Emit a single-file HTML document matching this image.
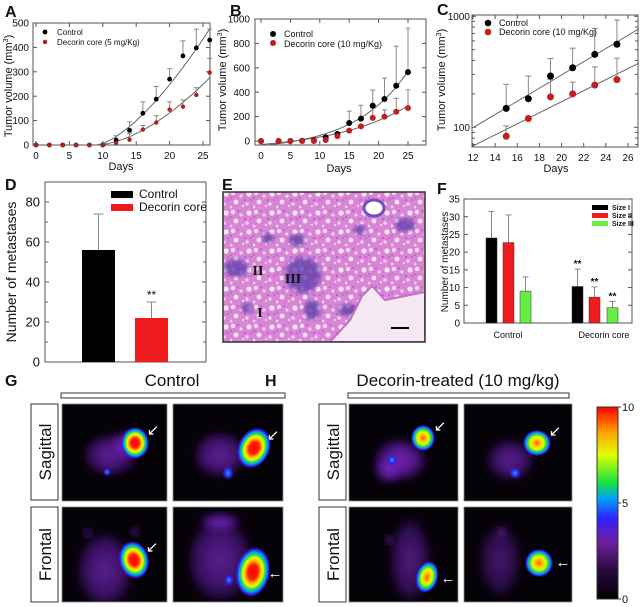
<!DOCTYPE html>
<html><head><meta charset="utf-8"><style>
html,body{margin:0;padding:0;background:#fff;}
svg{display:block;font-family:"Liberation Sans",Arial,sans-serif;}
</style></head><body>
<svg id="fig" width="640" height="607" viewBox="0 0 640 607" xmlns="http://www.w3.org/2000/svg">
<defs>
<radialGradient id="hotG"><stop offset="0" stop-color="#ff0000"/><stop offset="0.3" stop-color="#ff2000"/><stop offset="0.45" stop-color="#ffb000"/><stop offset="0.58" stop-color="#e8ff00"/><stop offset="0.7" stop-color="#20e040"/><stop offset="0.8" stop-color="#00a0ff"/><stop offset="0.9" stop-color="#3020ff"/><stop offset="1" stop-color="#6a20c0" stop-opacity="0"/></radialGradient>
<radialGradient id="hotH"><stop offset="0" stop-color="#ff6000"/><stop offset="0.25" stop-color="#ffc000"/><stop offset="0.5" stop-color="#e0ff00"/><stop offset="0.65" stop-color="#30e030"/><stop offset="0.78" stop-color="#00a0ff"/><stop offset="0.9" stop-color="#3020ff"/><stop offset="1" stop-color="#6a20c0" stop-opacity="0"/></radialGradient>
<radialGradient id="blueSpot"><stop offset="0" stop-color="#30a0ff"/><stop offset="0.5" stop-color="#2030ff"/><stop offset="1" stop-color="#5020c0" stop-opacity="0"/></radialGradient>
<radialGradient id="body"><stop offset="0" stop-color="#8a30d8" stop-opacity="0.95"/><stop offset="0.7" stop-color="#6a1cb8" stop-opacity="0.7"/><stop offset="1" stop-color="#3a0a70" stop-opacity="0"/></radialGradient>
<linearGradient id="cbar" x1="0" y1="1" x2="0" y2="0"><stop offset="0" stop-color="#000"/><stop offset="0.15" stop-color="#2a0a40"/><stop offset="0.3" stop-color="#7020a0"/><stop offset="0.42" stop-color="#3020ff"/><stop offset="0.52" stop-color="#00a0ff"/><stop offset="0.6" stop-color="#10e040"/><stop offset="0.75" stop-color="#e0ff00"/><stop offset="0.87" stop-color="#ffa000"/><stop offset="1" stop-color="#ff0000"/></linearGradient>
<filter id="blur2"><feGaussianBlur stdDeviation="2"/></filter>
<filter id="blur4"><feGaussianBlur stdDeviation="4"/></filter>
<pattern id="alveoli" width="23" height="19" patternUnits="userSpaceOnUse">
<rect width="23" height="19" fill="#d985d6"/>
<circle cx="3" cy="3" r="2.2" fill="#f3dcf1"/><circle cx="11" cy="6" r="1.6" fill="#f0d4ee"/><circle cx="6" cy="12" r="2.4" fill="#f5e2f3"/><circle cx="17" cy="14" r="1.8" fill="#efd0ec"/>
<circle cx="19" cy="4" r="2.6" fill="#f6e6f4"/><circle cx="13" cy="16" r="1.2" fill="#eccbe9"/><circle cx="1" cy="17" r="1.4" fill="#efd2ec"/>
<circle cx="8" cy="2" r="0.8" fill="#9a40b8"/><circle cx="1" cy="8" r="0.8" fill="#a048c0"/><circle cx="15" cy="10" r="0.8" fill="#9040b0"/><circle cx="21" cy="10" r="0.7" fill="#a048c0"/>
</pattern>
<clipPath id="clipA"><rect x="33" y="23" width="177" height="122"/></clipPath>
<clipPath id="clipB"><rect x="255" y="19" width="171" height="126"/></clipPath>
<clipPath id="clipC"><rect x="472" y="15" width="167" height="132"/></clipPath>
<clipPath id="clipE"><rect x="223" y="192" width="202" height="150"/></clipPath>
</defs>
</svg>
<script>
// ===== data arrays =====
const A_days=[0,2,4,6,8,10,12,14,16,18,20,22,24,26];
const A_ctrl=[0,0,0,0,0,0,20,60,130,188,270,365,398,430];
const A_ctrlErr=[0,0,0,0,0,0,38,95,177,240,313,427,475,475];
const A_dec=[0,0,0,0,0,0,8,22,63,92,145,157,205,297];
const A_decErr=[0,0,0,0,0,0,0,48,80,120,177,185,235,355];
const A_xticks=[0,5,10,15,20,25];
const A_yticks=[0,100,200,300,400,500];

const B_days=[0,3,5,7,9,11,13,15,17,19,21,23,25];
const B_ctrl=[0,0,0,2,5,30,57,148,183,290,344,453,565];
const B_ctrlErr=[0,0,0,0,0,40,70,245,293,417,516,778,925];
const B_dec=[0,0,0,0,0,8,40,85,120,190,200,240,270];
const B_decErr=[0,0,0,0,0,0,0,0,0,270,255,350,420];
const B_xticks=[0,5,10,15,20,25];
const B_yticks=[0,200,400,600,800,1000];

const C_days=[15,17,19,21,23,25];
const C_ctrl=[148,181,290,344,454,560];
const C_ctrlErr=[244,290,417,516,778,925];
const C_dec=[83,120,188,200,240,269];
const C_decErr=[103,0,270,255,350,420];
const C_xticks=[12,14,16,18,20,22,24,26];
const C_yticks=[100,1000];

const D_groups=["Control","Decorin core"];
const D_vals=[56,22];
const D_err=[74,30];
const D_yticks=[0,20,40,60,80];

const F_groups=["Control","Decorin core"];
const F_sizes=["Size I","Size II","Size III"];
const F_ctrl=[24,22.7,9];
const F_ctrlErr=[31.5,30.5,13];
const F_dec=[10.3,7.3,4.3];
const F_decErr=[15.2,10.2,6.1];
const F_yticks=[0,5,10,15,20,25,30,35];

const CB_ticks=[0,5,10];

// ===== helpers =====
const NS="http://www.w3.org/2000/svg";
const svg=document.getElementById('fig');
function mk(tag,attrs,parent){const e=document.createElementNS(NS,tag);for(const k in attrs)e.setAttribute(k,attrs[k]);(parent||svg).appendChild(e);return e;}
function txt(s,attrs,parent){const e=mk('text',attrs,parent);e.textContent=s;return e;}
function lin(d0,d1,r0,r1){return v=>r0+(v-d0)/(d1-d0)*(r1-r0);}
function grp(name){const g=mk('g',{});return g;}

function frame(g,x0,y0,x1,y1){
  const r=mk('rect',{x:x0,y:y0,width:x1-x0,height:y1-y0,fill:'none',stroke:'#555','stroke-width':1},g);
  
  
}
function yTicks(g,ticks,ys,x0,x1,lx,fs,fmt){
  ticks.forEach(t=>{const y=ys(t);
    const a=mk('line',{x1:x0,y1:y,x2:x0+4,y2:y,stroke:'#555'},g);
    
    
    const b=mk('line',{x1:x1,y1:y,x2:x1-4,y2:y,stroke:'#555'},g);
    
    
    const l=txt(fmt?fmt(t):String(t),{x:lx,y:y+fs*0.36,'font-size':fs,'text-anchor':'end',fill:'#111'},g);
    
    
  });
}
function xTicks(g,ticks,xs,y0,y1,ly,fs){
  ticks.forEach(t=>{const x=xs(t);
    const a=mk('line',{x1:x,y1:y1,x2:x,y2:y1-4,stroke:'#555'},g);
    
    
    const b=mk('line',{x1:x,y1:y0,x2:x,y2:y0+4,stroke:'#555'},g);
    
    
    const l=txt(String(t),{x:x,y:ly,'font-size':fs,'text-anchor':'middle',fill:'#111'},g);
    
    
  });
}
function errBar(g,x,y0,y1,cap){
  if(y1>=y0-0.5)return;
  const l=mk('line',{x1:x,y1:y0,x2:x,y2:y1,stroke:'#888','stroke-width':1},g);
  
  
  const c=mk('line',{x1:x-cap,y1:y1,x2:x+cap,y2:y1,stroke:'#888','stroke-width':1},g);
  
  
}
function dot(g,x,y,r,fill,name){
  const c=mk('circle',{cx:x,cy:y,r:r,fill:fill},g);
  
  
}
function curve(g,pts,clip){
  const p=mk('polyline',{points:pts.map(q=>q[0].toFixed(1)+','+q[1].toFixed(1)).join(' '),fill:'none',stroke:'#666','stroke-width':1,'clip-path':clip},g);
  
  
}
function label(s,x,y,fs,name,extra){
  const t=txt(s,Object.assign({x:x,y:y,'font-size':fs,fill:'#111'},extra||{}));
  
  
  return t;
}
function panelLetter(s,x,y){const t=label(s,x,y,16,'panel-label-'+s.toLowerCase(),{'font-weight':'bold'});}
function ytitle(g,x,y,fs,s,sup){
  const t=mk('text',{x:0,y:0,'font-size':fs,'text-anchor':'middle',fill:'#111',transform:`translate(${x},${y}) rotate(-90)`},g);
  
  
  t.appendChild(document.createTextNode(s));
  if(sup){const ts=mk('tspan',{'font-size':fs*0.65,dy:-fs*0.35},t);ts.textContent=sup;const t2=mk('tspan',{dy:fs*0.35},t);t2.textContent=')';}
}

// ===== Panel A =====
(function(){
  const g=grp('panel-a-chart');
  const xs=lin(0,25,36,203), ys=lin(0,500,145,23);
  frame(g,33,23,210,145);
  yTicks(g,A_yticks,ys,33,210,29,10);
  xTicks(g,A_xticks,xs,23,145,159,10);
  ytitle(g,12,86,11,'Tumor volume (mm','3');
  label('Days',121,170,11,'x-axis-title',{'text-anchor':'middle'});
  function fit(vals,p){let n=0,d=0;A_days.forEach((dd,i)=>{if(dd>9){const gg=Math.pow(dd-9,p);n+=vals[i]*gg;d+=gg*gg;}});const a=n/d;const pts=[];for(let dd=9;dd<=26.3;dd+=0.25)pts.push([xs(dd),ys(a*Math.pow(dd-9,p))]);return pts;}
  curve(g,fit(A_ctrl,1.5),'url(#clipA)');
  curve(g,fit(A_dec,1.7),'url(#clipA)');
  A_days.forEach((d,i)=>{errBar(g,xs(d),ys(A_ctrl[i]),ys(A_ctrlErr[i]),2.5);errBar(g,xs(d),ys(A_dec[i]),ys(A_decErr[i]),2.5);});
  A_days.forEach((d,i)=>{dot(g,xs(d),ys(A_ctrl[i]),2.4,'#000','control-point');});
  A_days.forEach((d,i)=>{dot(g,xs(d),ys(A_dec[i]),2.2,'#b02020','decorin-point');});
  dot(g,45,32,2.4,'#000','legend-control-marker');
  label('Control',57,35,8,'legend-control-label');
  dot(g,45,42,2.2,'#b02020','legend-decorin-marker');
  label('Decorin core (5 mg/Kg)',57,45,8,'legend-decorin-label');
})();
panelLetter('A',5,17);

// ===== Panel B =====
(function(){
  const g=grp('panel-b-chart');
  const xs=lin(0,25,261,408), ys=lin(0,1000,141,19);
  frame(g,255,19,426,145);
  yTicks(g,B_yticks,ys,255,426,250,10);
  xTicks(g,B_xticks,xs,19,145,159,10);
  ytitle(g,226,80,11,'Tumor volume (mm','3');
  label('Days',339,172,11,'x-axis-title',{'text-anchor':'middle'});
  function fit(vals,k){const X=B_days.map(d=>Math.exp(k*d));const n=X.length;const mx=X.reduce((a,b)=>a+b)/n,my=vals.reduce((a,b)=>a+b)/n;let sxy=0,sxx=0;X.forEach((x,i)=>{sxy+=(x-mx)*(vals[i]-my);sxx+=(x-mx)*(x-mx);});const a=sxy/sxx,c=my-a*mx;const pts=[];for(let d=0;d<=25;d+=0.25)pts.push([xs(d),ys(a*Math.exp(k*d)+c)]);return pts;}
  curve(g,fit(B_ctrl,0.11),'url(#clipB)');
  curve(g,fit(B_dec,0.08),'url(#clipB)');
  B_days.forEach((d,i)=>{errBar(g,xs(d),ys(B_ctrl[i]),ys(B_ctrlErr[i]),2.5);errBar(g,xs(d),ys(B_dec[i]),ys(B_decErr[i]),2.5);});
  B_days.forEach((d,i)=>{dot(g,xs(d),ys(B_ctrl[i]),3,'#000','control-point');});
  B_days.forEach((d,i)=>{dot(g,xs(d),ys(B_dec[i]),3,'#c02020','decorin-point');});
  dot(g,273,34,3,'#000','legend-control-marker');
  label('Control',284,37,9,'legend-control-label');
  dot(g,273,43,3,'#c02020','legend-decorin-marker');
  label('Decorin core (10 mg/Kg)',284,47,9,'legend-decorin-label');
})();
panelLetter('B',230,16);

// ===== Panel C =====
(function(){
  const g=grp('panel-c-chart');
  const xs=lin(12,26,473,628), ys=v=>127.3-(Math.log10(v)-2)*111;
  frame(g,472,15,638,147);
  [70,80,90,200,300,400,500,600,700,800,900].forEach(v=>{const y=ys(v);if(y<15||y>147)return;
    const a=mk('line',{x1:472,y1:y,x2:475,y2:y,stroke:'#555'},g);
    
    
    const b=mk('line',{x1:638,y1:y,x2:635,y2:y,stroke:'#555'},g);
    
    });
  yTicks(g,C_yticks,ys,472,638,470,10);
  xTicks(g,C_xticks,xs,15,147,161,10);
  ytitle(g,445,80,11,'Tumor volume (mm','3');
  label('Days',556,172,11,'x-axis-title',{'text-anchor':'middle'});
  function fit(vals){const L=vals.map(v=>Math.log10(v));const n=L.length;const mx=C_days.reduce((a,b)=>a+b)/n,my=L.reduce((a,b)=>a+b)/n;let sxy=0,sxx=0;C_days.forEach((d,i)=>{sxy+=(d-mx)*(L[i]-my);sxx+=(d-mx)*(d-mx);});const b=sxy/sxx,a=my-b*mx;return [[xs(12),ys(Math.pow(10,a+b*12))],[xs(27.5),ys(Math.pow(10,a+b*27.5))]];}
  curve(g,fit(C_ctrl),'url(#clipC)');
  curve(g,fit(C_dec),'url(#clipC)');
  C_days.forEach((d,i)=>{if(C_ctrlErr[i]>C_ctrl[i])errBar(g,xs(d),ys(C_ctrl[i]),ys(C_ctrlErr[i]),3);if(C_decErr[i]>C_dec[i])errBar(g,xs(d),ys(C_dec[i]),ys(C_decErr[i]),3);});
  C_days.forEach((d,i)=>{dot(g,xs(d),ys(C_ctrl[i]),3.5,'#000','control-point');});
  C_days.forEach((d,i)=>{dot(g,xs(d),ys(C_dec[i]),3.5,'#c02020','decorin-point');});
  dot(g,488,23,3.3,'#000','legend-control-marker');
  label('Control',499,26,9,'legend-control-label');
  dot(g,488,32,3.3,'#c02020','legend-decorin-marker');
  label('Decorin core (10 mg/Kg)',499,35,9,'legend-decorin-label');
})();
panelLetter('C',437,15);

// ===== Panel D =====
(function(){
  const g=grp('panel-d-chart');
  const ys=lin(0,80,362,202);
  const bx=[82,135], bw=33, cols=['#000','#ee1c1c'];
  frame(g,45,182,206,362);
  yTicks(g,D_yticks,ys,45,206,40,13);
  [10,30,50,70].forEach(v=>{const y=ys(v);
    const a=mk('line',{x1:45,y1:y,x2:48,y2:y,stroke:'#555'},g);
    
    
    const b=mk('line',{x1:206,y1:y,x2:203,y2:y,stroke:'#555'},g);
    
    });
  ytitle(g,16,272,14,'Number of metastases');
  D_vals.forEach((v,i)=>{
    errBar(g,bx[i]+bw/2,ys(v),ys(D_err[i]),5);
    const r=mk('rect',{x:bx[i],y:ys(v),width:bw,height:ys(0)-ys(v),fill:cols[i]},g);
    
    
  });
  const s=txt('**',{x:bx[1]+bw/2,y:ys(D_err[1])-3,'font-size':12,'text-anchor':'middle',fill:'#111'},g);
  
  
  D_groups.forEach((n,i)=>{
    const r=mk('rect',{x:111,y:191+i*13,width:22,height:7,fill:cols[i]},g);
    
    
    const t=txt(n,{x:139,y:198+i*13,'font-size':12,fill:'#111'},g);
    
    
  });
})();
panelLetter('D',5,190);

// ===== Panel E (histology) =====
(function(){
  const g=grp('histology-image');
  const clip=mk('g',{'clip-path':'url(#clipE)'},g);
  const bg=mk('rect',{x:223,y:192,width:202,height:150,fill:'url(#alveoli)'},clip);
  
  
  [[236,268,12,9],[303,275,18,18],[297,240,8,6],[405,225,10,7],[247,308,6,5],[312,310,8,10],[268,238,6,5],[348,310,10,6],[360,230,6,5]].forEach(b=>{
    const e=mk('ellipse',{cx:b[0],cy:b[1],rx:b[2],ry:b[3],fill:'#5a3aa8',opacity:0.75,filter:'url(#blur2)'},clip);
    
    
  });
  const w=mk('path',{d:'M330 342 L350 320 L362 296 L372 286 L385 300 L425 292 L425 342 Z',fill:'#f5e8f2',stroke:'#c070c0','stroke-width':2},clip);
  
  
  const v=mk('ellipse',{cx:374,cy:208,rx:10,ry:8,fill:'#fff',stroke:'#7050c0','stroke-width':3},clip);
  
  
  const f=mk('rect',{x:223,y:192,width:202,height:150,fill:'none',stroke:'#333','stroke-width':1.5},g);
  
  
  [['II',258,275],['III',293,283],['I',260,317]].forEach(l=>{
    const t=txt(l[0],{x:l[1],y:l[2],'font-size':14,'font-weight':'bold','text-anchor':'middle',fill:'#111','font-family':'"Liberation Serif",serif'},g);
    
    
  });
  const sb=mk('line',{x1:391,y1:328,x2:409,y2:328,stroke:'#000','stroke-width':2},g);
  
  
})();
panelLetter('E',222,190);

// ===== Panel F =====
(function(){
  const g=grp('panel-f-chart');
  const ys=lin(0,35,323,199);
  const cols=['#000','#ee1c1c','#66ee44'];
  const cx=[486,503,520], dx=[572,589,607], bw=11;
  frame(g,464,199,632,323);
  yTicks(g,F_yticks,ys,464,632,460,10);
  ytitle(g,448,262,10,'Number of metastases');
  function bars(vals,errs,xs,grpName,stars){
    vals.forEach((v,i)=>{
      errBar(g,xs[i]+bw/2,ys(v),ys(errs[i]),3);
      const r=mk('rect',{x:xs[i],y:ys(v),width:bw,height:ys(0)-ys(v),fill:cols[i],stroke:'#333','stroke-width':0.5},g);
      
      
      if(stars){const s=txt('**',{x:xs[i]+bw/2,y:ys(errs[i])-2,'font-size':10,'text-anchor':'middle',fill:'#111','font-weight':'bold'},g);
        
        }
    });
  }
  bars(F_ctrl,F_ctrlErr,cx,'control',false);
  bars(F_dec,F_decErr,dx,'decorin',true);
  const l1=txt(F_groups[0],{x:508,y:338,'font-size':9,'text-anchor':'middle',fill:'#111'},g);
  
  
  const l2=txt(F_groups[1],{x:604,y:338,'font-size':9,'text-anchor':'middle',fill:'#111'},g);
  
  
  F_sizes.forEach((n,i)=>{
    const r=mk('rect',{x:592,y:205+i*8,width:16,height:5,fill:cols[i]},g);
    
    
    const t=txt(n,{x:612,y:210+i*8,'font-size':7,'font-weight':'bold',fill:'#111'},g);
    
    
  });
})();
panelLetter('F',437,194);

// ===== Panels G/H (imaging) =====
(function(){
  const g=grp('imaging-panels');
  function hdr(x0,x1,title,tx){
    const b=mk('rect',{x:x0,y:393,width:x1-x0,height:5,fill:'#fff',stroke:'#333','stroke-width':1},g);
    
    
    const t=txt(title,{x:tx,y:386,'font-size':17,'text-anchor':'middle',fill:'#111'},g);
    
    
  }
  hdr(61,285,'Control',172);
  hdr(348,569,'Decorin-treated (10 mg/kg)',458);
  function sideLabel(x,y0,y1,s){
    const r=mk('rect',{x:x,y:y0,width:27,height:y1-y0,fill:'#fff',stroke:'#333','stroke-width':1},g);
    
    
    const t=mk('text',{x:0,y:0,'font-size':17,'text-anchor':'middle',fill:'#111',transform:`translate(${x+20},${(y0+y1)/2}) rotate(-90)`},g);
    t.textContent=s;
    
    
  }
  sideLabel(31,404,500,'Sagittal');sideLabel(31,507,602,'Frontal');
  sideLabel(319,404,500,'Sagittal');sideLabel(319,507,602,'Frontal');
  function scan(x0,y0,x1,y1,bodies,spots,hot,arrow){
    const cp=mk('clipPath',{id:'cp'+x0+'_'+y0});
    mk('rect',{x:x0,y:y0,width:x1-x0,height:y1-y0},cp);
    const s=mk('g',{'clip-path':`url(#cp${x0}_${y0})`},g);
    
    
    mk('rect',{x:x0,y:y0,width:x1-x0,height:y1-y0,fill:'#060308'},s);
    bodies.forEach(b=>mk('ellipse',{cx:b[0],cy:b[1],rx:b[2],ry:b[3],fill:'url(#body)',filter:'url(#blur4)',opacity:b[4]||0.8},s));
    spots.forEach(b=>mk('ellipse',{cx:b[0],cy:b[1],rx:b[2],ry:b[3],fill:'url(#blueSpot)'},s));
    const h=mk('ellipse',{cx:hot[0],cy:hot[1],rx:hot[2],ry:hot[3],fill:`url(#${hot[4]})`,transform:`rotate(${hot[5]||0} ${hot[0]} ${hot[1]})`},s);
    
    
    const a=txt(arrow[2],{x:arrow[0],y:arrow[1],'font-size':15,fill:'#fff','text-anchor':'middle'},s);
    
    
    const f=mk('rect',{x:x0,y:y0,width:x1-x0,height:y1-y0,fill:'none',stroke:'#888','stroke-width':0.8},g);
    
    
  }
  scan(62,404,167,501,[[110,455,28,22,0.75],[125,445,15,15]],[[107,472,4,4]],[135,443,14,16,'hotG'],[153,435,'↙']);
  scan(173,404,283,501,[[220,455,28,24,0.75]],[[228,473,6,7]],[254,448,16,21,'hotG',25],[273,440,'↙']);
  scan(62,507,167,602,[[105,570,30,40,0.7],[88,533,5,5],[135,532,5,5]],[],[134,560,15,19,'hotG',-15],[152,552,'↙']);
  scan(173,507,283,602,[[220,560,35,45,0.7],[220,522,22,10,0.85]],[[229,580,5,6]],[253,572,17,25,'hotG',10],[275,578,'←']);
  scan(349,404,458,501,[[400,460,28,22,0.9],[388,470,14,14]],[[392,460,5,6]],[423,438,12,13,'hotH'],[440,431,'↙']);
  scan(464,404,572,501,[[510,460,25,22,0.7]],[[515,473,6,6]],[537,443,14,13,'hotH'],[555,436,'↙']);
  scan(349,507,458,602,[[410,560,22,45,0.6],[389,540,4,5,1]],[],[427,577,11,16,'hotH',15],[448,583,'←']);
  scan(464,507,572,602,[[500,560,22,40,0.5],[502,532,4,5,1]],[],[539,563,14,14,'hotH'],[563,567,'←']);
  const cb=mk('rect',{x:597,y:407,width:21,height:192,fill:'url(#cbar)',stroke:'#333','stroke-width':1},g);
  
  
  const cys=lin(0,10,599,407);
  CB_ticks.forEach(t=>{
    const l=mk('line',{x1:618,y1:cys(t),x2:621,y2:cys(t),stroke:'#333'},g);
    
    
    const tt=txt(String(t),{x:622,y:cys(t)+4,'font-size':11,fill:'#111'},g);
    
    
  });
})();
panelLetter('G',5,386);
panelLetter('H',265,386);
</script>
</body></html>
